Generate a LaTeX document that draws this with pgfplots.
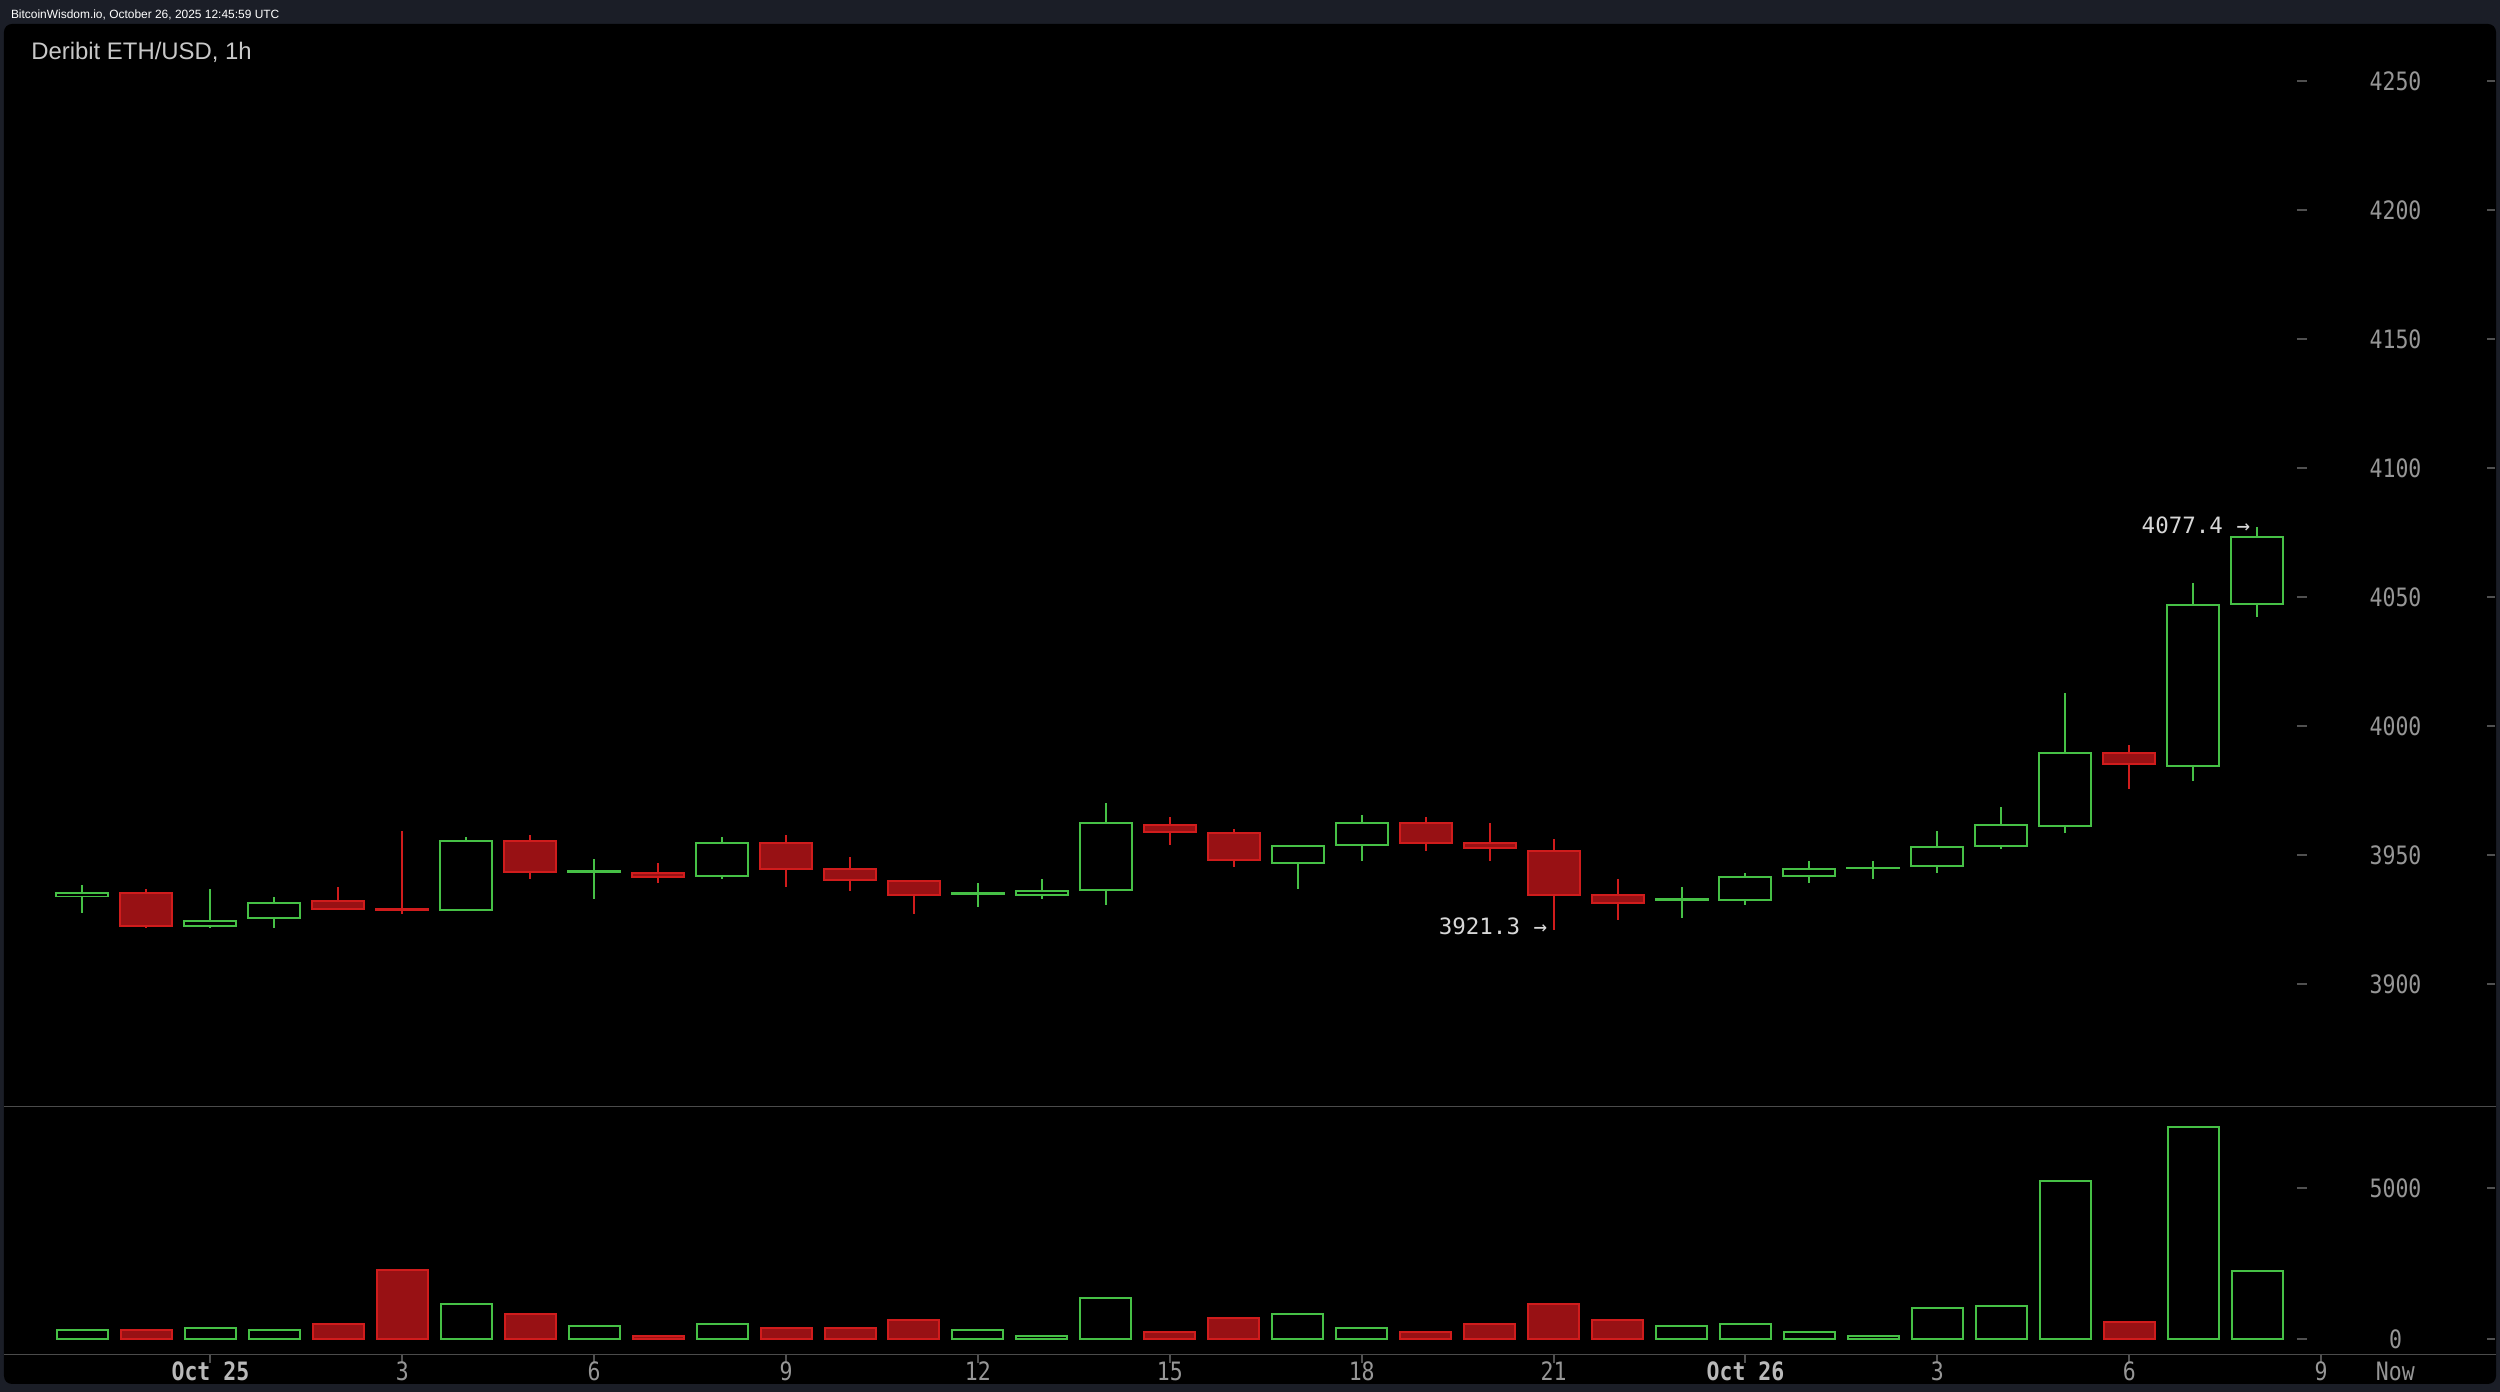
\documentclass[border=0pt]{standalone}
\usepackage{fontspec}
\usepackage{pgfplots}
\usepackage{pgfplotstable}
\pgfplotsset{compat=1.18}

\setmainfont{Liberation Sans}
\newfontfamily\monof{DejaVu Sans Mono}[FakeStretch=0.85]
\newfontfamily\monon{DejaVu Sans Mono}

\definecolor{bgnavy}{RGB}{27,30,39}
\definecolor{upg}{RGB}{70,192,70}
\definecolor{dnr}{RGB}{208,28,28}
\definecolor{dnfill}{RGB}{152,17,20}
\definecolor{labgray}{RGB}{150,150,150}
\definecolor{daygray}{RGB}{185,185,185}
\definecolor{ticgray}{RGB}{80,80,80}
\definecolor{sepgray}{RGB}{75,75,75}
\definecolor{anngray}{RGB}{215,215,215}
\definecolor{titlegray}{RGB}{200,200,200}

% hour (0 = Oct 25 00:00), open, high, low, close, volume
\pgfplotstableread{
t  o      h      l      c      v
-2 3934.2 3938.7 3927.8 3935.3 308
0  3922.6 3937.1 3921.7 3924.6 374
1  3925.7 3934.0 3921.7 3931.5 308
4  3929.0 3957.2 3929.0 3955.4 1165
6  3943.5 3948.7 3933.2 3943.8 440
8  3942.0 3957.2 3941.0 3954.8 506
12 3935.0 3939.4 3930.1 3935.3 308
13 3934.8 3940.9 3933.2 3936.3 110
14 3936.7 3970.4 3930.9 3962.5 1363
17 3947.2 3953.8 3937.1 3953.8 835
18 3954.2 3965.8 3947.9 3962.5 374
23 3932.7 3937.8 3925.6 3933.0 440
24 3932.8 3943.3 3930.9 3941.5 506
25 3942.0 3947.9 3939.4 3944.6 242
26 3945.0 3947.9 3940.9 3945.3 110
27 3945.9 3959.6 3943.3 3953.1 1033
28 3953.6 3968.8 3952.4 3961.6 1099
29 3961.3 4013.1 3958.8 3989.5 5242
31 3984.6 4055.7 3978.9 4046.9 7034
32 4047.5 4077.4 4042.5 4073.3 2275
}\upc

\pgfplotstableread{
t  o      h      l      c      v
-1 3935.4 3937.1 3921.7 3922.5 308
2  3932.3 3937.8 3928.7 3929.4 506
3  3929.3 3959.6 3927.2 3929.0 2286
5  3955.6 3958.0 3941.0 3943.5 835
7  3943.3 3947.2 3939.4 3941.7 110
9  3954.8 3958.0 3937.8 3944.9 374
10 3944.7 3949.4 3936.3 3940.4 374
11 3940.0 3940.0 3927.2 3934.8 637
15 3961.9 3965.0 3953.9 3958.9 242
16 3958.7 3960.3 3945.6 3948.1 703
19 3962.5 3965.0 3951.8 3954.8 242
20 3954.8 3962.7 3947.9 3952.7 506
21 3951.7 3956.4 3921.3 3934.8 1165
22 3934.6 3940.9 3925.0 3931.7 637
30 3989.5 3992.9 3975.8 3985.4 571
}\dnc

% wick from low to high
\newcommand\wicks[2]{%
  \addplot[draw=none, mark=none, error bars/.cd, y dir=both, y explicit, error mark=none,
    error bar style={draw=#2, solid, line width=0.02cm}]
    table[x=t, y expr={(\thisrow{h}+\thisrow{l})/2}, y error expr={(\thisrow{h}-\thisrow{l})/2}] {#1};}
% body from open to close: outer edge, then inner fill
\newcommand\bodies[3]{%
  \addplot[draw=none, mark=none, error bars/.cd, y dir=both, y explicit, error mark=none,
    error bar style={draw=#2, solid, line width=0.54cm}]
    table[x=t, y expr={(\thisrow{o}+\thisrow{c})/2}, y error expr={abs(\thisrow{c}-\thisrow{o})/2+0.39}] {#1};
  \addplot[draw=none, mark=none, error bars/.cd, y dir=both, y explicit, error mark=none,
    error bar style={draw=#3, solid, line width=0.50cm}]
    table[x=t, y expr={(\thisrow{o}+\thisrow{c})/2}, y error expr={max(abs(\thisrow{c}-\thisrow{o})/2-0.39,0)}] {#1};}

\pgfplotsset{
  chartbase/.style={
    scale only axis, anchor=south west, width=24.83cm,
    xmin=-3.227, xmax=35.594,
    axis line style={draw=none},
    tick align=outside, major tick length=0.08cm,
    tick style={draw=ticgray, line width=0.02cm},
    ytick pos=right, yticklabel pos=right,
    yticklabel style={font=\monof\fontsize{7.2}{8}\selectfont, text=labgray, anchor=center, xshift=-0.995cm},
    /pgf/number format/assume math mode=true,
    /pgf/number format/1000 sep={},
  },
}

\begin{document}
\begin{tikzpicture}
\fill[bgnavy] (0,0) rectangle (25,13.92);
\fill[black, rounded corners=0.08cm] (0.04,0.08) rectangle (24.96,13.68);

\node[anchor=base west, inner sep=0pt, font=\fontsize{3.4}{4}\selectfont, text=white]
  at (0.103,13.737) {BitcoinWisdom.io, October 26, 2025 12:45:59 UTC};
\node[anchor=base west, inner sep=0pt, font=\fontsize{6.8}{8}\selectfont, text=titlegray]
  at (0.306,13.32) {Deribit ETH/USD, 1h};

% price pane
\begin{axis}[chartbase,
  at={(0.04cm,2.86cm)}, height=10.82cm,
  ymin=3852.93, ymax=4272.08,
  xtick=\empty,
  ytick={3900,3950,...,4250},
]
\pgfplotsinvokeforeach{3900,3950,...,4250}{
  \draw[ticgray, line width=0.02cm] (axis cs:32.62,#1) -- (axis cs:32.78,#1);
}
\wicks{\upc}{upg}
\wicks{\dnc}{dnr}
\bodies{\upc}{upg}{black}
\bodies{\dnc}{dnr}{dnfill}
\node[anchor=base east, inner sep=0pt, font=\monon\fontsize{6.4}{7}\selectfont, text=anngray]
  at (axis cs:31.90,4074.8) {4077.4 →};
\node[anchor=base east, inner sep=0pt, font=\monon\fontsize{6.4}{7}\selectfont, text=anngray]
  at (axis cs:20.91,3919.2) {3921.3 →};
\end{axis}

% volume pane
\begin{axis}[chartbase,
  at={(0.04cm,0.373cm)}, height=2.48cm,
  ymin=-504, ymax=7703,
  ytick={0,5000},
  xtick={0,3,...,33},
  xtick pos=bottom,
  xticklabels={{\bfseries\color{daygray}Oct 25},3,6,9,12,15,18,21,{\bfseries\color{daygray}Oct 26},3,6,9},
  xticklabel style={font=\monof\fontsize{7.2}{8}\selectfont, text=labgray, anchor=base, yshift=-0.18cm},
  extra x ticks={34.16},
  extra x tick labels={Now},
  extra x tick style={tick style={draw=none}},
]
\pgfplotsinvokeforeach{0,5000}{
  \draw[ticgray, line width=0.02cm] (axis cs:32.62,#1) -- (axis cs:32.78,#1);
}
\addplot[ybar, bar width=0.51cm, bar shift=0pt, draw=upg, fill=black, line width=0.02cm]
  table[x=t, y=v] {\upc};
\addplot[ybar, bar width=0.51cm, bar shift=0pt, draw=dnr, fill=dnfill, line width=0.02cm]
  table[x=t, y=v] {\dnc};
\end{axis}

\draw[sepgray, line width=0.014cm] (0.04,2.853) -- (24.96,2.853);
\draw[sepgray, line width=0.014cm] (0.04,0.373) -- (24.96,0.373);

\pgfresetboundingbox
\path[use as bounding box] (0,0) rectangle (25,13.92);
\end{tikzpicture}
\end{document}
